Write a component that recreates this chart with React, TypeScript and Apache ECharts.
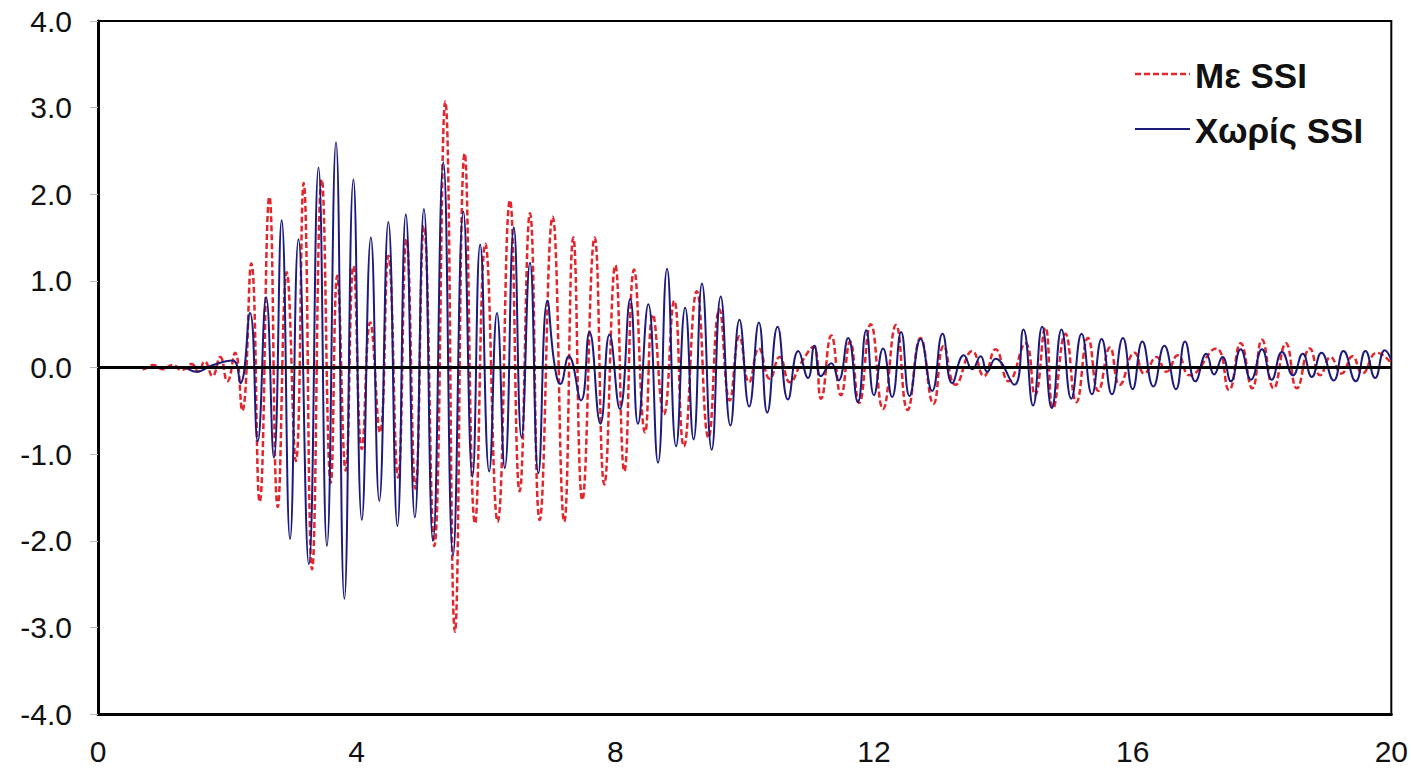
import React, { useEffect, useRef } from "react";
import * as echarts from "echarts";

// Time (s) of each read peak / trough, and the value there
const withSsiT = [0, 0.6, 0.7, 0.85, 1.0, 1.15, 1.3, 1.45, 1.55, 1.65, 1.77, 1.89, 2.0, 2.12, 2.23, 2.37, 2.5, 2.65, 2.78, 2.92, 3.06, 3.18, 3.31, 3.46, 3.6, 3.7, 3.83, 3.95, 4.08, 4.21, 4.36, 4.49, 4.64, 4.77, 4.91, 5.04, 5.2, 5.37, 5.52, 5.67, 5.83, 5.99, 6.18, 6.37, 6.52, 6.68, 6.83, 7.03, 7.21, 7.35, 7.49, 7.68, 7.83, 8.0, 8.14, 8.29, 8.46, 8.58, 8.75, 8.91, 9.06, 9.26, 9.44, 9.61, 9.77, 9.92, 10.07, 10.22, 10.39, 10.54, 10.7, 10.88, 11.06, 11.18, 11.34, 11.49, 11.63, 11.77, 11.95, 12.14, 12.34, 12.52, 12.72, 12.92, 13.08, 13.26, 13.52, 13.7, 13.88, 14.08, 14.34, 14.49, 14.65, 14.77, 14.96, 15.13, 15.31, 15.47, 15.65, 15.8, 16.03, 16.18, 16.37, 16.52, 16.7, 16.88, 17.29, 17.49, 17.67, 17.85, 18.0, 18.18, 18.37, 18.54, 18.74, 18.9, 19.06, 19.23, 19.4, 19.55, 19.78, 20.0];
const withSsiV = [0, 0, -0.02, 0.03, -0.02, 0.03, -0.03, 0.04, -0.05, 0.07, -0.1, 0.12, -0.16, 0.17, -0.5, 1.2, -1.55, 1.97, -1.61, 1.1, -1.08, 2.13, -2.33, 2.17, -1.33, 1.06, -1.19, 1.17, -0.94, 0.52, -0.75, 1.29, -1.27, 1.48, -1.4, 1.63, -2.06, 3.07, -3.05, 2.47, -1.8, 1.43, -1.78, 1.93, -1.43, 1.78, -1.76, 1.74, -1.78, 1.5, -1.53, 1.5, -1.35, 1.18, -1.2, 1.13, -0.75, 0.61, -0.54, 0.77, -0.91, 0.88, -0.81, 0.67, -0.38, 0.36, -0.17, 0.22, -0.13, 0.12, -0.17, 0.06, 0.24, -0.36, 0.37, -0.32, 0.3, -0.41, 0.5, -0.48, 0.49, -0.49, 0.34, -0.42, 0.25, -0.2, 0.19, -0.1, 0.21, -0.16, 0.28, -0.32, 0.46, -0.47, 0.39, -0.4, 0.34, -0.27, 0.23, -0.2, 0.17, -0.07, 0.12, -0.05, 0.14, -0.09, 0.22, -0.26, 0.28, -0.24, 0.32, -0.24, 0.28, -0.24, 0.22, -0.09, 0.12, -0.07, 0.13, -0.07, 0.17, 0.05];

const noSsiT = [0, 1.3, 1.52, 1.75, 2.08, 2.2, 2.35, 2.47, 2.6, 2.72, 2.84, 2.97, 3.1, 3.26, 3.41, 3.54, 3.68, 3.81, 3.95, 4.08, 4.22, 4.35, 4.49, 4.63, 4.76, 4.9, 5.04, 5.18, 5.34, 5.49, 5.65, 5.79, 5.91, 6.05, 6.17, 6.29, 6.43, 6.55, 6.68, 6.81, 6.95, 7.06, 7.15, 7.28, 7.47, 7.6, 7.77, 7.91, 8.07, 8.23, 8.35, 8.51, 8.66, 8.8, 8.94, 9.08, 9.21, 9.34, 9.49, 9.63, 9.78, 9.92, 10.07, 10.22, 10.35, 10.51, 10.67, 10.83, 10.98, 11.08, 11.18, 11.34, 11.45, 11.6, 11.75, 11.88, 12.0, 12.14, 12.28, 12.42, 12.55, 12.72, 12.9, 13.06, 13.21, 13.39, 13.52, 13.65, 13.75, 13.88, 14.17, 14.31, 14.46, 14.6, 14.75, 14.9, 15.05, 15.21, 15.37, 15.52, 15.68, 15.85, 16.0, 16.15, 16.32, 16.49, 16.67, 16.81, 16.97, 17.14, 17.26, 17.39, 17.52, 17.67, 17.83, 18.0, 18.15, 18.31, 18.48, 18.63, 18.77, 18.92, 19.11, 19.26, 19.45, 19.6, 19.75, 19.9, 20.0];
const noSsiV = [0, 0, -0.05, 0.02, 0.08, -0.18, 0.63, -0.85, 0.81, -1.04, 1.7, -1.98, 1.48, -2.27, 2.31, -2.06, 2.6, -2.67, 2.17, -1.76, 1.5, -1.54, 1.68, -1.83, 1.77, -1.73, 1.83, -2.0, 2.37, -2.17, 1.8, -1.26, 1.42, -1.2, 0.63, -1.16, 1.62, -0.81, 1.21, -1.22, 0.77, 0.03, -0.19, 0.13, -0.38, 0.41, -0.65, 0.38, -0.48, 0.79, -0.65, 0.73, -1.1, 1.14, -0.91, 0.69, -0.83, 0.97, -0.95, 0.82, -0.67, 0.55, -0.45, 0.52, -0.52, 0.47, -0.37, 0.19, -0.12, 0.25, -0.1, 0.05, -0.15, 0.34, -0.4, 0.43, -0.32, 0.22, -0.34, 0.41, -0.33, 0.33, -0.27, 0.39, -0.18, 0.14, -0.02, 0.13, -0.05, 0.1, -0.2, 0.44, -0.44, 0.47, -0.47, 0.44, -0.36, 0.39, -0.31, 0.33, -0.31, 0.34, -0.25, 0.3, -0.22, 0.25, -0.25, 0.3, -0.16, 0.16, -0.08, 0.12, -0.16, 0.21, -0.14, 0.21, -0.14, 0.18, -0.09, 0.16, -0.11, 0.17, -0.15, 0.19, -0.16, 0.19, -0.12, 0.2, 0.09];

const zeroLineT = [0, 20];
const zeroLineV = [0, 0];

const xTicks = [0, 4, 8, 12, 16, 20];
const seriesNames = ["Με SSI", "Χωρίς SSI"];

const RED = "#e3262b";
const NAVY = "#1c1b7c";

const zip = (t: number[], v: number[]) => t.map((x, i) => [x, v[i]]);

const legendText = {
  fontFamily: "Liberation Sans, Arial, sans-serif",
  fontWeight: "bold",
  fontSize: 35,
  fill: "#111",
  verticalAlign: "middle",
  align: "left",
};

export default function App() {
  const ref = useRef<HTMLDivElement>(null);
  useEffect(() => {
    if (!ref.current) return;
    const chart = echarts.init(ref.current, null, { renderer: "svg" });
    chart.setOption({
      animation: false,
      backgroundColor: "#ffffff",
      grid: {
        left: 98,
        right: 13,
        top: 21,
        bottom: 55,
        show: true,
        borderColor: "#000",
        borderWidth: 2,
      },
      graphic: [
        {
          type: "line",
          shape: { x1: 1135, y1: 74, x2: 1190, y2: 74 },
          style: { stroke: RED, lineWidth: 2.5, lineDash: [6, 3] },
          z: 10,
        },
        {
          type: "text",
          x: 1195,
          y: 75,
          style: { ...legendText, text: seriesNames[0] },
          z: 10,
        },
        {
          type: "line",
          shape: { x1: 1135, y1: 129, x2: 1190, y2: 129 },
          style: { stroke: NAVY, lineWidth: 2 },
          z: 10,
        },
        {
          type: "text",
          x: 1195,
          y: 130,
          style: { ...legendText, text: seriesNames[1] },
          z: 10,
        },
      ],
      xAxis: {
        type: "value",
        min: xTicks[0],
        max: xTicks[xTicks.length - 1],
        interval: 4,
        axisLine: { onZero: false, lineStyle: { color: "#000", width: 3 } },
        axisTick: { show: false },
        splitLine: { show: false },
        axisLabel: {
          margin: 22,
          fontFamily: "Liberation Sans, Arial, sans-serif",
          fontSize: 30,
          color: "#111",
          showMaxLabel: true,
        },
      },
      yAxis: {
        type: "value",
        min: -4,
        max: 4,
        interval: 1,
        axisLine: { show: true, lineStyle: { color: "#000", width: 3 } },
        axisTick: { show: true, length: 8, lineStyle: { color: "#bbb", width: 1 } },
        splitLine: { show: false },
        axisLabel: {
          margin: 26,
          fontFamily: "Liberation Sans, Arial, sans-serif",
          fontSize: 30,
          color: "#111",
          formatter: (v: number) => v.toFixed(1),
        },
      },
      series: [
        {
          name: seriesNames[0],
          type: "line",
          data: zip(withSsiT, withSsiV),
          smooth: 0.5,
          symbol: "none",
          lineStyle: { color: RED, width: 2.5, type: [6, 3] },
          itemStyle: { color: RED },
          z: 2,
        },
        {
          name: seriesNames[1],
          type: "line",
          data: zip(noSsiT, noSsiV),
          smooth: 0.5,
          symbol: "none",
          lineStyle: { color: NAVY, width: 2 },
          itemStyle: { color: NAVY },
          z: 3,
        },
        {
          name: "zero",
          type: "line",
          data: zip(zeroLineT, zeroLineV),
          symbol: "none",
          lineStyle: { color: "#000", width: 3 },
          silent: true,
          z: 4,
        },
      ],
    });
    return () => chart.dispose();
  }, []);
  return (
    <div
      ref={ref}
      style={{ position: "fixed", left: 0, top: 0, width: 1411, height: 769 }}
    />
  );
}
